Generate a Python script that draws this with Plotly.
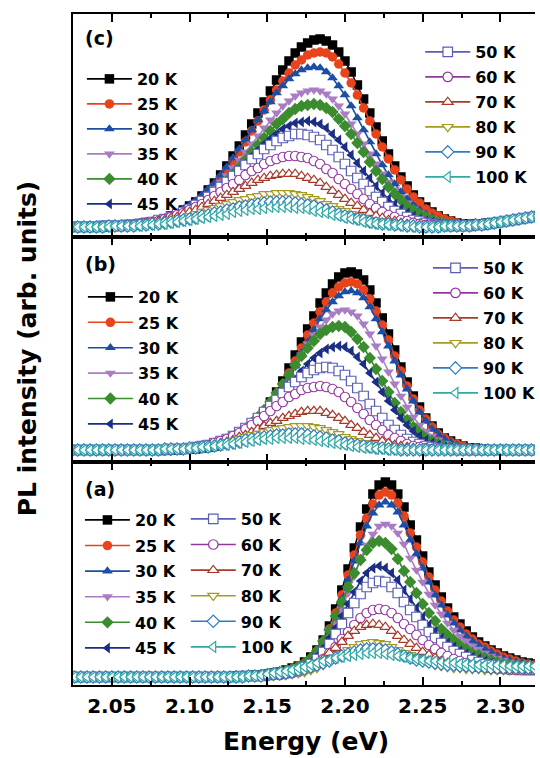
import plotly.graph_objects as go
from plotly.subplots import make_subplots

# Energy sampling of the PL spectra (eV); spectrum (a) was recorded on a grid offset by 2 meV
energy_bc = [round(2.024 + 0.004 * i, 3) for i in range(78)]
energy_a = [round(2.026 + 0.004 * i, 3) for i in range(78)]

temperatures = ["20 K", "25 K", "30 K", "35 K", "40 K", "45 K",
                "50 K", "60 K", "70 K", "80 K", "90 K", "100 K"]
colors = ["#000000", "#E8431A", "#1C4FA3", "#A97CC4", "#3B8C2E", "#1B2D84",
          "#5A5DB5", "#9436A0", "#A63B2C", "#A69B22", "#2F7CC2", "#33A9A6"]
symbols = ["square", "circle", "triangle-up", "triangle-down", "diamond", "triangle-left",
           "square", "circle", "triangle-up", "triangle-down", "diamond", "triangle-left"]
hollow = [False] * 6 + [True] * 6

# ---- panel (c): PL intensity (arb. units) ----
pl_c_20 = [0,0,0,0,0,0,1,1,1,2, 2,3,4,5,6,8,11,13,17,21, 25,31,37,44,52,61,71,81,92,103, 114,125,136,147,157,166,174,180,184,187, 188,186,182,175,166,155,142,128,114,100, 86,73,61,50,41,32,25,20,15,11, 8,6,4,3,3,3,3,4,4,5, 6,7,8,9,10,11,12,13]
pl_c_25 = [0,0,0,0,0,0,1,1,1,1, 2,3,4,5,6,8,10,12,16,19, 24,29,35,41,49,57,66,75,85,96, 106,117,127,137,146,154,162,167,172,174, 175,174,170,163,154,144,132,119,106,93, 80,68,57,47,38,30,24,18,14,11, 8,6,4,3,3,3,3,4,4,5, 6,7,8,9,10,11,12,13]
pl_c_30 = [0,0,0,0,0,0,1,1,1,2, 2,3,4,5,7,9,11,14,18,22, 26,32,38,44,52,60,69,78,87,97, 107,116,125,134,141,148,153,157,159,160, 159,155,149,141,132,121,109,97,85,73, 62,52,43,35,28,22,17,13,10,7, 5,4,3,2,2,3,3,3,4,5, 6,7,8,9,10,11,12,13]
pl_c_35 = [0,0,0,0,0,0,1,1,1,2, 2,3,4,5,6,8,10,12,15,18, 22,27,32,38,45,51,59,67,75,83, 91,99,107,114,121,126,131,134,136,137, 136,133,128,121,113,103,93,83,73,63, 53,45,37,30,24,18,14,11,8,6, 4,3,2,2,2,3,3,3,4,5, 6,7,8,9,10,11,12,13]
pl_c_40 = [0,0,0,0,0,0,1,1,1,1, 2,2,3,4,5,7,9,11,14,17, 20,24,29,34,40,46,53,60,67,75, 82,89,96,103,108,114,118,121,122,123, 122,119,115,108,101,93,84,75,65,56, 48,40,33,27,21,17,13,10,7,5, 4,3,2,2,2,3,3,3,4,5, 6,7,8,9,10,11,12,13]
pl_c_45 = [0,0,0,0,0,0,1,1,1,2, 2,3,4,5,6,8,9,12,14,17, 21,25,29,34,40,46,52,58,64,71, 77,83,88,93,98,101,104,105,106,105, 103,99,93,87,80,72,64,56,49,41, 34,28,23,18,14,11,8,6,5,3, 2,2,1,1,1,2,2,3,4,5, 6,7,8,9,10,11,12,13]
pl_c_50 = [0,0,0,0,0,1,1,1,1,2, 2,3,4,5,7,8,10,13,15,18, 22,26,30,35,40,45,51,56,62,68, 73,78,82,86,89,91,93,93,92,90, 87,82,77,70,63,56,49,43,36,30, 25,20,16,13,10,7,6,4,3,2, 1,1,1,1,1,2,2,3,4,5, 6,7,8,9,10,11,12,13]
pl_c_60 = [0,0,0,0,0,1,1,1,1,2, 2,3,4,5,6,8,10,12,14,17, 20,23,27,31,35,39,43,47,52,56, 59,63,66,68,70,71,71,70,69,66, 63,58,54,48,43,38,33,28,23,19, 15,12,10,7,6,4,3,2,2,1, 1,1,1,1,1,2,2,3,4,5, 6,7,8,9,10,11,12,13]
pl_c_70 = [0,0,0,0,0,1,1,1,1,2, 2,3,4,5,6,7,9,10,13,15, 17,20,23,26,29,32,35,38,41,44, 47,49,51,52,53,53,53,51,49,47, 44,40,36,32,28,24,21,17,14,11, 9,7,6,4,3,2,2,1,1,0, 1,1,1,1,1,2,2,3,4,5, 6,7,8,9,10,11,12,13]
pl_c_80 = [0,0,0,0,0,1,1,1,1,2, 2,2,3,4,5,6,7,8,9,11, 13,15,17,19,21,23,25,27,28,30, 31,33,33,34,34,34,33,32,30,28, 26,23,21,18,16,13,11,9,7,6, 5,4,3,2,1,1,1,0,0,0, 1,1,1,1,1,2,2,3,4,5, 6,7,8,9,10,11,12,13]
pl_c_90 = [0,0,0,0,0,0,1,1,1,1, 1,2,2,3,3,4,5,6,7,8, 9,11,12,14,15,17,18,20,21,22, 23,24,25,25,25,25,24,23,22,21, 19,17,15,13,11,10,8,7,5,4, 3,3,2,2,1,1,0,0,0,0, 1,1,1,1,1,2,2,3,4,5, 6,7,8,9,10,11,12,13]
pl_c_100 = [0,0,0,0,0,0,0,1,1,1, 1,1,2,2,3,3,4,5,6,7, 8,9,10,11,12,13,15,16,17,18, 18,19,20,20,20,20,19,19,18,16, 15,14,12,11,9,8,7,5,4,3, 3,2,2,1,1,0,0,0,0,0, 1,1,1,1,1,2,2,3,4,5, 6,7,8,9,10,11,12,13]

# ---- panel (b) ----
pl_b_20 = [0,0,0,0,0,0,0,0,0,0, 0,0,0,0,0,0,0,0,1,1, 1,2,3,4,6,8,11,14,19,24, 31,38,48,58,69,82,95,108,121,134, 147,157,166,173,177,178,176,170,160,147, 132,116,100,83,68,54,43,32,24,17, 12,9,6,4,2,2,1,0,0,0, 0,0,0,0,0,0,0,0]
pl_b_25 = [0,0,0,0,0,0,0,0,0,0, 0,0,0,0,0,0,0,0,1,1, 1,2,3,4,5,7,10,13,18,23, 29,36,45,55,65,77,89,102,115,127, 138,148,157,163,167,168,166,160,151,139, 125,110,94,79,64,51,40,31,23,16, 12,8,6,4,2,2,1,0,0,0, 0,0,0,0,0,0,0,0]
pl_b_30 = [0,0,0,0,0,0,0,0,0,0, 0,0,0,0,0,0,0,0,1,1, 1,2,3,4,5,7,10,13,17,21, 27,34,42,52,62,73,84,97,108,120, 131,140,148,154,158,159,157,152,143,131, 118,104,89,75,61,49,38,29,21,16, 11,8,5,3,2,1,1,0,0,0, 0,0,0,0,0,0,0,0]
pl_b_35 = [0,0,0,0,0,0,0,0,0,0, 0,0,0,0,0,0,0,0,1,1, 2,2,3,4,6,8,11,15,19,24, 30,37,46,54,64,74,85,95,106,115, 123,130,136,139,140,138,134,126,116,104, 91,78,66,54,43,33,25,19,14,10, 7,5,3,2,1,1,0,0,0,0, 0,0,0,0,0,0,0,0]
pl_b_40 = [0,0,0,0,0,0,0,0,0,0, 0,0,0,0,0,0,0,1,1,1, 2,3,4,5,7,10,13,17,21,27, 33,40,48,57,66,75,85,94,102,109, 116,120,123,124,123,118,111,103,92,81, 69,58,47,38,30,23,17,12,9,6, 4,3,2,1,1,0,0,0,0,0, 0,0,0,0,0,0,0,0]
pl_b_45 = [0,0,0,0,0,0,0,0,0,0, 0,0,0,0,0,0,0,0,1,1, 2,2,3,5,6,8,11,14,18,22, 28,34,40,48,55,63,71,79,86,92, 97,101,103,104,103,99,93,86,77,68, 58,49,40,32,25,19,14,10,7,5, 3,2,1,1,0,0,0,0,0,0, 0,0,0,0,0,0,0,0]
pl_b_50 = [0,0,0,0,0,0,0,0,0,0, 0,0,0,0,0,0,1,1,1,2, 3,4,5,7,9,11,14,18,22,27, 32,38,44,50,57,63,68,73,77,80, 82,83,82,79,75,69,62,54,46,39, 32,25,20,15,11,8,6,4,3,2, 1,1,0,0,0,0,0,0,0,0, 0,0,0,0,0,0,0,0]
pl_b_60 = [0,0,0,0,0,0,0,0,0,0, 0,0,0,0,0,0,1,1,1,2, 3,4,5,7,9,11,14,17,21,25, 29,34,39,44,48,53,56,60,62,63, 64,63,61,58,53,48,42,36,30,25, 20,15,12,9,6,4,3,2,1,1, 0,0,0,0,0,0,0,0,0,0, 0,0,0,0,0,0,0,0]
pl_b_70 = [0,0,0,0,0,0,0,0,0,0, 0,0,0,0,0,0,1,1,1,2, 2,3,4,5,7,8,10,13,15,18, 21,24,27,29,32,34,36,38,39,39, 39,37,35,32,29,25,22,18,15,12, 9,7,5,4,3,2,1,1,0,0, 0,0,0,0,0,0,0,0,0,0, 0,0,0,0,0,0,0,0]
pl_b_80 = [0,0,0,0,0,0,0,0,0,0, 0,0,0,0,0,1,1,1,1,2, 3,3,4,5,6,8,9,11,13,15, 16,18,20,21,22,23,24,24,24,23, 22,20,18,16,13,11,9,7,6,4, 3,2,2,1,1,0,0,0,0,0, 0,0,0,0,0,0,0,0,0,0, 0,0,0,0,0,0,0,0]
pl_b_90 = [0,0,0,0,0,0,0,0,0,0, 0,0,0,0,0,1,1,1,1,2, 2,3,3,4,5,6,7,8,10,11, 12,13,14,15,15,16,16,16,15,14, 13,12,10,9,7,6,5,4,3,2, 2,1,1,0,0,0,0,0,0,0, 0,0,0,0,0,0,0,0,0,0, 0,0,0,0,0,0,0,0]
pl_b_100 = [0,0,0,0,0,0,0,0,0,0, 0,0,0,0,0,1,1,1,1,2, 2,3,3,4,5,5,6,7,8,9, 10,11,11,12,12,12,12,11,11,10, 9,8,7,6,5,4,3,2,2,1, 1,0,0,0,0,0,0,0,0,0, 0,0,0,0,0,0,0,0,0,0, 0,0,0,0,0,0,0,0]

# ---- panel (a) ----
pl_a_20 = [0,0,0,0,0,0,0,0,0,0, 0,0,0,0,0,0,0,0,0,0, 0,0,0,0,0,0,1,1,1,2, 2,3,4,5,7,9,11,15,20,27, 37,51,68,87,108,129,150,168,183,192, 195,192,183,170,152,137,121,105,92,80, 69,60,53,46,40,35,31,27,24,21, 19,17,15,14,13,12,11,10]
pl_a_25 = [0,0,0,0,0,0,0,0,0,0, 0,0,0,0,0,0,0,0,0,0, 0,0,0,0,0,0,1,1,1,1, 2,3,4,5,6,8,11,14,18,26, 35,48,64,82,102,122,142,159,173,182, 185,182,174,161,144,130,115,100,87,76, 66,57,50,43,38,33,30,26,23,20, 18,16,14,13,12,11,10,9]
pl_a_30 = [0,0,0,0,0,0,0,0,0,0, 0,0,0,0,0,0,0,0,0,0, 0,0,0,0,0,0,1,1,1,1, 2,3,4,5,6,8,10,13,18,24, 33,46,61,78,97,116,134,151,164,172, 175,172,165,152,137,123,109,95,82,72, 62,54,47,41,36,32,28,25,21,19, 17,15,14,12,11,11,10,9]
pl_a_35 = [0,0,0,0,0,0,0,0,0,0, 0,0,0,0,0,0,0,0,0,0, 0,0,0,0,0,0,0,1,1,1, 2,2,3,4,5,7,9,11,15,21, 29,40,53,68,84,101,118,132,143,151, 153,151,144,133,119,107,95,83,72,63, 54,47,41,36,31,28,24,21,19,17, 15,13,12,11,10,9,8,8]
pl_a_40 = [0,0,0,0,0,0,0,0,0,0, 0,0,0,0,0,0,0,0,0,0, 0,0,0,0,0,0,1,1,1,1, 2,3,4,5,6,8,10,14,19,26, 36,47,61,75,90,104,117,127,134,136, 134,128,118,106,95,84,73,64,56,48, 42,37,32,28,24,22,19,17,15,13, 12,11,10,9,8,7,7,6]
pl_a_45 = [0,0,0,0,0,0,0,0,0,0, 0,0,0,0,0,0,0,0,0,0, 0,0,0,0,0,0,0,1,1,1, 2,2,3,4,5,6,8,11,15,21, 29,39,49,61,73,85,96,104,109,111, 109,104,97,87,78,69,60,52,46,39, 34,30,26,23,20,18,16,14,12,11, 10,9,8,7,7,6,6,5]
pl_a_50 = [0,0,0,0,0,0,0,0,0,0, 0,0,0,0,0,0,0,0,0,0, 0,0,0,0,0,0,0,1,1,1, 1,2,3,3,4,6,7,10,13,18, 25,33,43,53,64,74,83,90,94,96, 95,90,84,75,67,60,52,45,39,34, 30,26,23,20,17,15,13,12,10,9, 8,8,7,7,7,7,6,6]
pl_a_60 = [0,0,0,0,0,0,0,0,0,0, 0,0,0,0,0,0,0,0,0,0, 0,0,0,0,0,0,0,0,1,1, 1,1,2,2,3,4,5,7,9,13, 18,24,30,38,45,52,59,64,67,68, 67,64,59,53,48,42,37,32,28,24, 21,18,16,14,12,11,10,9,8,8, 7,7,7,7,7,7,7,7]
pl_a_70 = [0,0,0,0,0,0,0,0,0,0, 0,0,0,0,0,0,0,0,0,0, 0,0,0,0,0,0,0,0,1,1, 1,1,2,2,3,4,5,7,10,14, 18,24,29,35,41,46,50,52,53,52, 50,46,41,37,33,29,25,22,19,16, 14,12,11,10,9,8,8,7,7,7, 7,7,7,7,7,7,7,7]
pl_a_80 = [0,0,0,0,0,0,0,0,0,0, 0,0,0,0,0,0,0,0,0,0, 0,0,0,0,0,0,0,0,0,1, 1,1,1,2,2,3,4,5,7,9, 12,16,19,23,27,30,33,34,35,34, 33,30,27,24,22,19,16,14,12,11, 10,9,9,8,8,8,7,7,7,7, 7,7,7,7,7,7,7,7]
pl_a_90 = [0,0,0,0,0,0,0,0,0,0, 0,0,0,0,0,0,0,0,0,0, 0,0,0,0,0,0,0,0,1,1, 1,2,3,3,4,5,7,8,10,12, 14,16,19,21,23,25,27,28,28,28, 27,25,23,21,19,17,16,15,14,13, 12,12,11,11,10,10,10,9,9,9, 9,9,9,9,9,9,9,9]
pl_a_100 = [0,0,0,0,0,0,0,0,0,0, 0,0,0,0,0,0,0,0,0,0, 0,0,0,0,0,0,0,0,1,1, 2,3,4,5,6,7,9,10,12,14, 16,17,19,20,21,22,23,24,24,24, 23,22,21,20,19,18,17,16,16,15, 14,14,13,13,13,12,12,12,12,12, 11,11,11,11,11,11,11,11]

panels = [
    # (subplot row, tag, energy grid, spectra, y-range, left legend, right legend)
    (1, "c", energy_bc,
     [pl_c_20, pl_c_25, pl_c_30, pl_c_35, pl_c_40, pl_c_45,
      pl_c_50, pl_c_60, pl_c_70, pl_c_80, pl_c_90, pl_c_100],
     [-10, 213], "legend", "legend2"),
    (2, "b", energy_bc,
     [pl_b_20, pl_b_25, pl_b_30, pl_b_35, pl_b_40, pl_b_45,
      pl_b_50, pl_b_60, pl_b_70, pl_b_80, pl_b_90, pl_b_100],
     [-12, 213], "legend3", "legend4"),
    (3, "a", energy_a,
     [pl_a_20, pl_a_25, pl_a_30, pl_a_35, pl_a_40, pl_a_45,
      pl_a_50, pl_a_60, pl_a_70, pl_a_80, pl_a_90, pl_a_100],
     [-8, 215], "legend5", "legend6"),
]

FONT = "DejaVu Sans"
fig = make_subplots(rows=3, cols=1, shared_xaxes=True, vertical_spacing=0)

for row, tag, ex, spectra, yr, leg_left, leg_right in panels:
    for j, (name, col, sym, open_, y) in enumerate(zip(temperatures, colors, symbols, hollow, spectra)):
        fig.add_trace(go.Scatter(
            x=ex, y=y, name=name, mode="lines+markers",
            line=dict(color=col, width=1.6),
            marker=dict(symbol=sym, size=9.5,
                        color="white" if open_ else col,
                        line=dict(color=col, width=1.2 if open_ else 0)),
            legend=leg_left if j < 6 else leg_right,
            legendgroup=f"{tag}{name}",
        ), row=row, col=1)
    fig.update_yaxes(range=yr, row=row, col=1)

axis_line = dict(showline=True, linewidth=2, linecolor="black", showgrid=False, zeroline=False)
fig.update_xaxes(range=[2.025, 2.3223], tick0=2.05, dtick=0.05, ticks="inside", ticklen=8,
                 tickwidth=2, tickcolor="black", mirror="allticks",
                 minor=dict(ticks="inside", ticklen=4, tickwidth=2, tickcolor="black",
                            tick0=2.025, dtick=0.025),
                 tickformat=".2f", ticklabelstandoff=2,
                 tickfont=dict(family=FONT, size=20, color="black", weight="bold"),
                 **axis_line)
fig.update_yaxes(ticks="", showticklabels=False, mirror=False, **axis_line)

fig.update_layout(
    yaxis=dict(domain=[0.6677, 1.0]),
    yaxis2=dict(domain=[0.3323, 0.6677]),
    yaxis3=dict(domain=[0.0, 0.3323]),
)

# one legend group per entry so that tracegroupgap sets the row pitch
leg_font = dict(family=FONT, size=16, color="black", weight="bold")
leg_common = dict(font=leg_font, bgcolor="rgba(0,0,0,0)", borderwidth=0, itemwidth=45,
                  xanchor="left", yanchor="top", traceorder="grouped")
fig.update_layout(
    legend=dict(x=0.0193, y=0.9285, tracegroupgap=1.2, **leg_common),
    legend2=dict(x=0.7516, y=0.9687, tracegroupgap=1.2, **leg_common),
    legend3=dict(x=0.0214, y=0.6036, tracegroupgap=1.6, **leg_common),
    legend4=dict(x=0.7687, y=0.6468, tracegroupgap=1.2, **leg_common),
    legend5=dict(x=0.0150, y=0.2712, tracegroupgap=1.8, **leg_common),
    legend6=dict(x=0.2441, y=0.2727, tracegroupgap=1.8, **leg_common),
)

annotations = [
    dict(text="(c)", x=0.0214, y=0.9642),
    dict(text="(b)", x=0.0214, y=0.6274),
    dict(text="(a)", x=0.0214, y=0.2921),
]
for a in annotations:
    fig.add_annotation(xref="paper", yref="paper", xanchor="left", yanchor="middle",
                       showarrow=False, font=dict(family=FONT, size=19, color="black", weight="bold"),
                       **a)
fig.add_annotation(text="Energy (eV)", xref="paper", yref="paper", x=0.5054, y=-0.0840,
                   xanchor="center", yanchor="middle", showarrow=False,
                   font=dict(family=FONT, size=25, color="black", weight="bold"))
fig.add_annotation(text="PL intensity (arb. units)", xref="paper", yref="paper",
                   x=-0.0990, y=0.5022, textangle=-90, xanchor="center", yanchor="middle",
                   showarrow=False, font=dict(family=FONT, size=25, color="black", weight="bold"))

fig.update_layout(width=540, height=758, margin=dict(l=73, r=0, t=14, b=73),
                  plot_bgcolor="white", paper_bgcolor="white")

fig.write_html("out.html")
